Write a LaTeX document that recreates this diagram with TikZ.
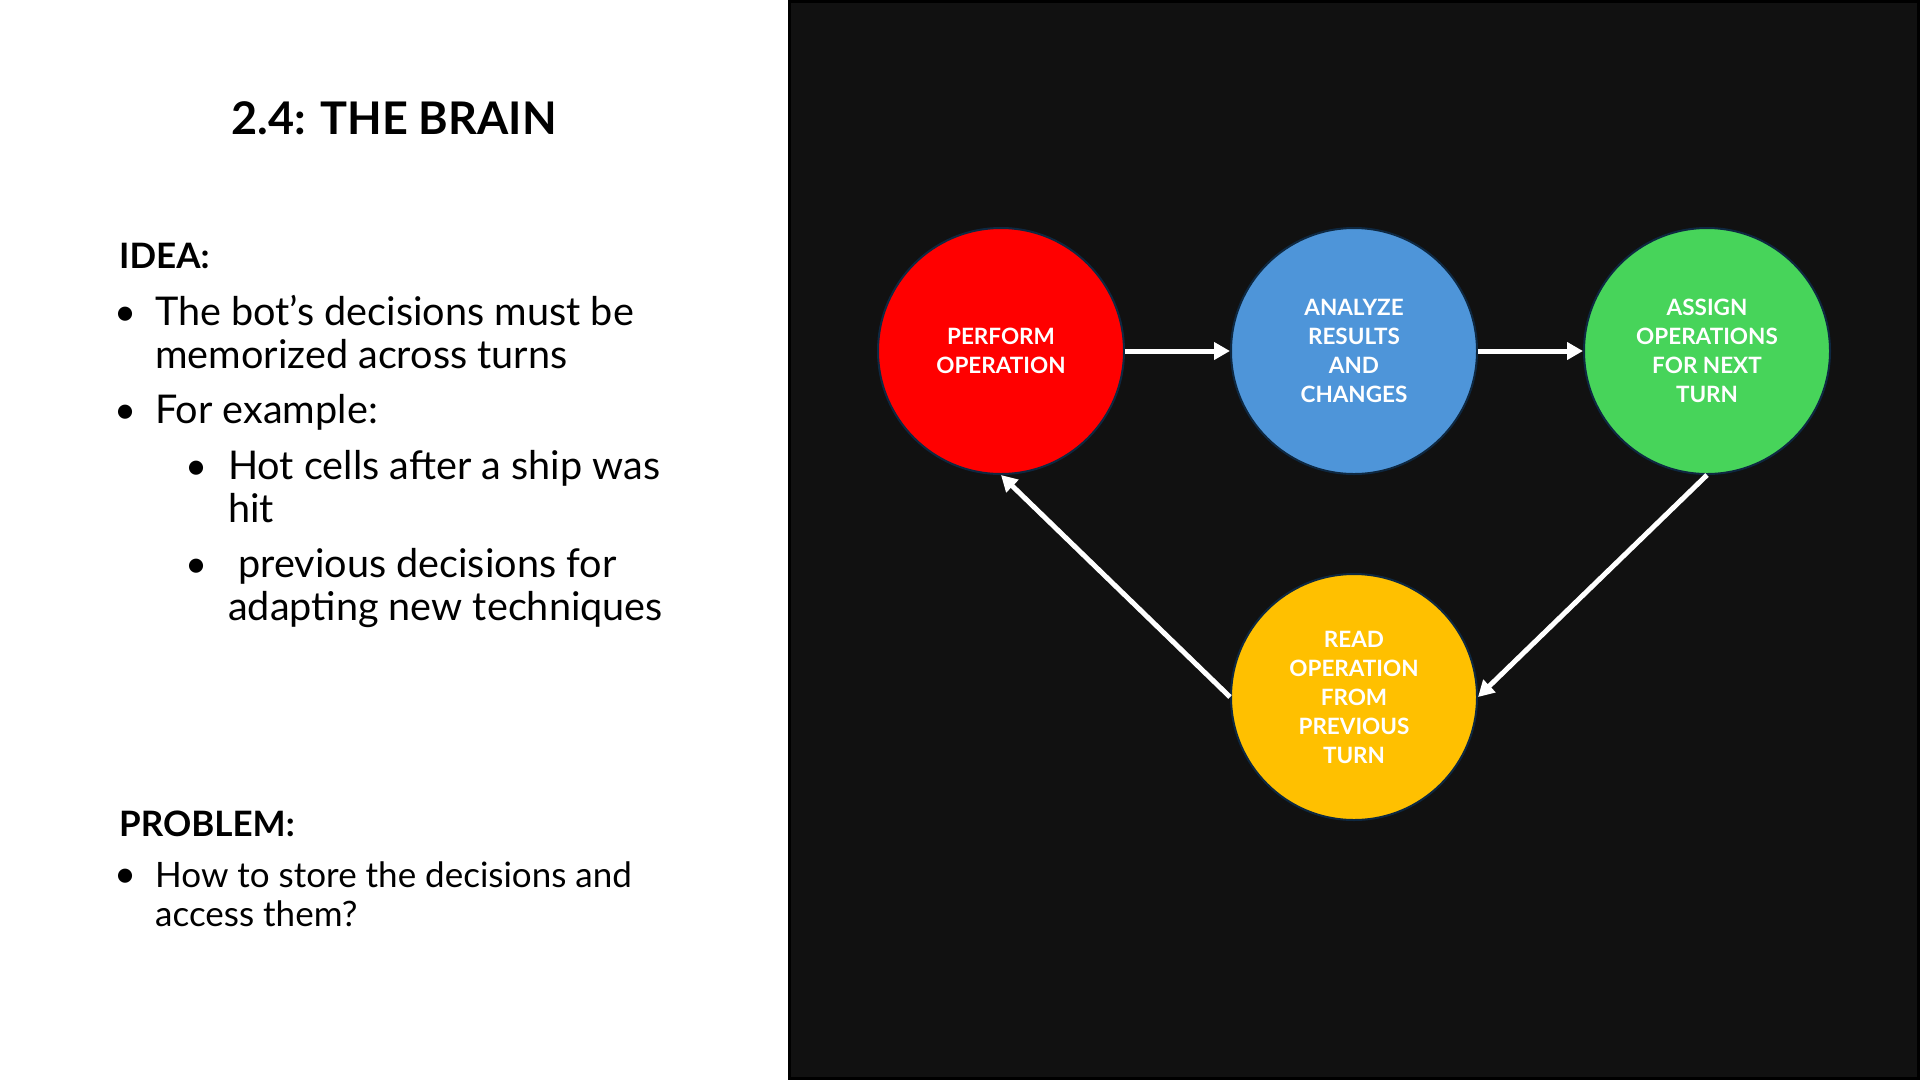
\documentclass[tikz,border=0pt]{standalone}
\usepackage{fontspec}
\setmainfont{Lato}
\usetikzlibrary{arrows.meta}
\definecolor{panel}{HTML}{111111}
\definecolor{ringline}{HTML}{0E2841}
\definecolor{cred}{HTML}{FF0000}
\definecolor{cblue}{HTML}{4E95D9}
\definecolor{cgreen}{HTML}{47D45A}
\definecolor{cyellow}{HTML}{FFC000}
\begin{document}
\begin{tikzpicture}[x=1pt,y=-1pt,
  stage/.style={circle, minimum size=246pt, inner sep=0pt, draw=ringline,
    line width=2pt, text=white, align=center,
    font=\fontsize{22.5}{29}\selectfont\bfseries},
  flow/.style={draw=white, line width=5pt,
    -{Triangle[length=16pt,width=17pt]}},
  line/.style={anchor=base west, inner sep=0pt, font=\fontsize{39.6}{44}\selectfont},
  small/.style={anchor=base west, inner sep=0pt, font=\fontsize{35}{39}\selectfont},
  head/.style={anchor=base west, inner sep=0pt, font=\fontsize{35}{40}\selectfont\bfseries},
  dot/.style={anchor=base, inner sep=0pt, font=\fontsize{38}{43}\selectfont}
]
\useasboundingbox (0,0) rectangle (1920,1080);
\fill[white] (0,0) rectangle (1920,1080);
% dark panel on the right
\draw[fill=panel, draw=black, line width=3pt] (789,1.5) rectangle (1918.5,1078.5);

% left column text
\node[anchor=base, inner sep=0pt, font=\fontsize{45}{50}\selectfont\bfseries] (title) at (394,134) {2.4: THE BRAIN};

\node[head] (idea) at (119,268) {IDEA:};
\node[dot] (b1) at (126,325) {•};
\node[line] (t1a) at (155,325) {The bot’s decisions must be};
\node[line] (t1b) at (155,368) {memorized across turns};
\node[dot] (b2) at (126,423) {•};
\node[line] (t2) at (155,423) {For example:};
\node[dot] (b3) at (197,479) {•};
\node[line] (t3a) at (228,479) {Hot cells after a ship was};
\node[line] (t3b) at (228,522) {hit};
\node[dot] (b4) at (197,577) {•};
\node[line] (t4a) at (228,577) {\ previous decisions for};
\node[line] (t4b) at (228,620) {adapting new techniques};

\node[head] (problem) at (119,836) {PROBLEM:};
\node[dot] (b5) at (126,887) {•};
\node[small] (t5a) at (155,887) {How to store the decisions and};
\node[small] (t5b) at (155,926) {access them?};

% cycle of stages
\node[stage, fill=cred] (perform) at (1001,351) {PERFORM\\OPERATION};
\node[stage, fill=cblue] (analyze) at (1354,351) {ANALYZE\\RESULTS\\AND\\CHANGES};
\node[stage, fill=cgreen] (assign) at (1707,351) {ASSIGN\\OPERATIONS\\FOR NEXT\\TURN};
\node[stage, fill=cyellow] (read) at (1354,697) {READ\\OPERATION\\FROM\\PREVIOUS\\TURN};

\draw[flow] (perform.east) -- (analyze.west);
\draw[flow] (analyze.east) -- (assign.west);
\draw[flow] (assign.south) -- (read.east);
\draw[flow] (read.west) -- (perform.south);
\end{tikzpicture}
\end{document}
